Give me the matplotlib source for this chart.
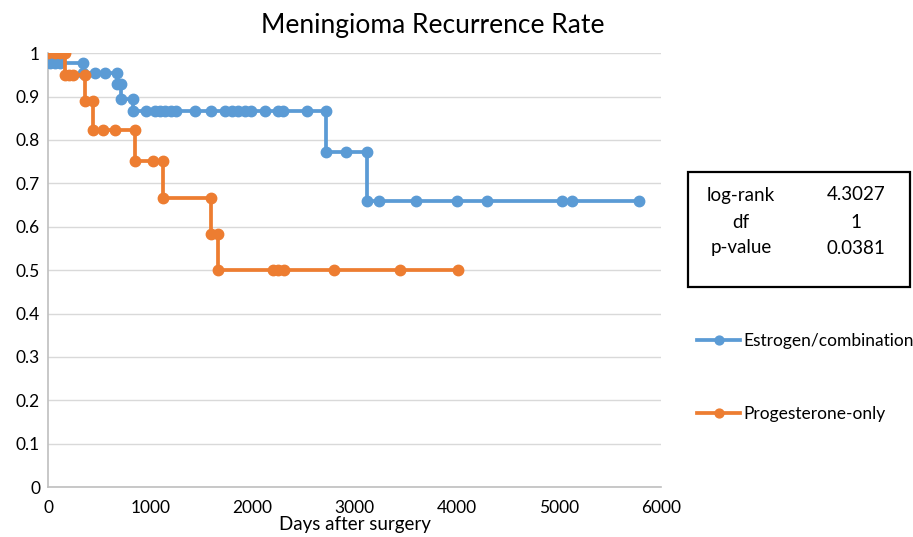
import matplotlib
matplotlib.use("Agg")
import matplotlib.pyplot as plt
from matplotlib.patches import Rectangle

plt.rcParams['font.family'] = ['Lato', 'DejaVu Sans']

# -------------------- DATA --------------------
# Kaplan-Meier curves, points as plotted (corners repeated at each drop)
est_days = [0, 15,
            15, 65, 115, 335,
            335, 455, 555, 670,
            670, 715,
            715, 827,
            827, 954, 1042, 1091, 1140, 1199, 1248, 1434, 1590, 1727,
            1795, 1854, 1923, 1982, 2118, 2246, 2295, 2530, 2720,
            2720, 2918, 3120,
            3120, 3234, 3603, 4004, 4300, 5031, 5129, 5788]
est_surv = [1.0, 1.0,
            0.978, 0.978, 0.978, 0.978,
            0.955, 0.955, 0.955, 0.955,
            0.929, 0.929,
            0.895, 0.895,
            0.866, 0.866, 0.866, 0.866, 0.866, 0.866, 0.866, 0.866, 0.866, 0.866,
            0.866, 0.866, 0.866, 0.866, 0.866, 0.866, 0.866, 0.866, 0.866,
            0.772, 0.772, 0.772,
            0.659, 0.659, 0.659, 0.659, 0.659, 0.659, 0.659, 0.659]

prog_days = [0, 60, 110, 160,
             160, 200, 240, 360,
             360, 435,
             435, 530, 650, 845,
             845, 1025, 1120,
             1120, 1590,
             1590, 1660,
             1660, 2200, 2250, 2310, 2800, 3440, 4010]
prog_surv = [1.0, 1.0, 1.0, 1.0,
             0.95, 0.95, 0.95, 0.95,
             0.889, 0.889,
             0.823, 0.823, 0.823, 0.823,
             0.752, 0.752, 0.752,
             0.667, 0.667,
             0.583, 0.583,
             0.5, 0.5, 0.5, 0.5, 0.5, 0.5, 0.5]

series_names = ['Estrogen/combination', 'Progesterone-only']
stat_names = ['log-rank', 'df', 'p-value']
stat_values = ['4.3027', '1', '0.0381']

x_ticks = [0, 1000, 2000, 3000, 4000, 5000, 6000]
y_ticks = [0, 0.1, 0.2, 0.3, 0.4, 0.5, 0.6, 0.7, 0.8, 0.9, 1]

BLUE = '#5b9bd5'
ORANGE = '#ed7d31'

# -------------------- PLOT --------------------
fig = plt.figure(figsize=(9.13, 5.37), dpi=100)
ax = fig.add_axes([0.053, 0.093, 0.671, 0.808])

ax.plot(est_days, est_surv, color=BLUE, lw=2.7, marker='o', ms=7.5,
        label=series_names[0], zorder=3)
ax.plot(prog_days, prog_surv, color=ORANGE, lw=2.7, marker='o', ms=7.5,
        label=series_names[1], zorder=4)

ax.set_xlim(0, 6000)
ax.set_ylim(0, 1)
ax.set_xticks(x_ticks)
ax.set_yticks(y_ticks)
ax.set_yticklabels([f'{v:g}' for v in y_ticks])
ax.tick_params(length=0, labelsize=12.5, pad=6)
ax.tick_params(axis='x', pad=9)
ax.grid(axis='y', color='#d9d9d9', lw=1)
ax.set_axisbelow(True)
for side in ['top', 'right']:
    ax.spines[side].set_visible(False)
for side in ['left', 'bottom']:
    ax.spines[side].set_color('#bfbfbf')
    ax.spines[side].set_linewidth(1.2)
for lbl in ax.get_xticklabels() + ax.get_yticklabels():
    lbl.set_clip_on(False)

ax.set_xlabel('Days after surgery', fontsize=13.5, labelpad=0)
fig.text(0.474, 0.952, 'Meningioma Recurrence Rate', ha='center', va='center',
         fontsize=19)

# stats box
fig.patches.append(Rectangle((688 / 913, 1 - 287 / 537), 222 / 913, 115 / 537,
                             transform=fig.transFigure, fill=False,
                             edgecolor='black', lw=1.6))
row_y = [195, 222, 248]
for name, val, y in zip(stat_names, stat_values, row_y):
    fig.text(741 / 913, 1 - y / 537, name, ha='center', va='center', fontsize=13.5)
    fig.text(856 / 913, 1 - y / 537, val, ha='center', va='center', fontsize=13.5)

fig.legend(loc='upper left', bbox_to_anchor=(697 / 913, 1 - 333 / 537),
           frameon=False, fontsize=12.5, handlelength=2.5, handletextpad=0.15,
           labelspacing=3.3, borderpad=0, borderaxespad=0, markerscale=0.85)

fig.savefig('out.png', dpi=100)
